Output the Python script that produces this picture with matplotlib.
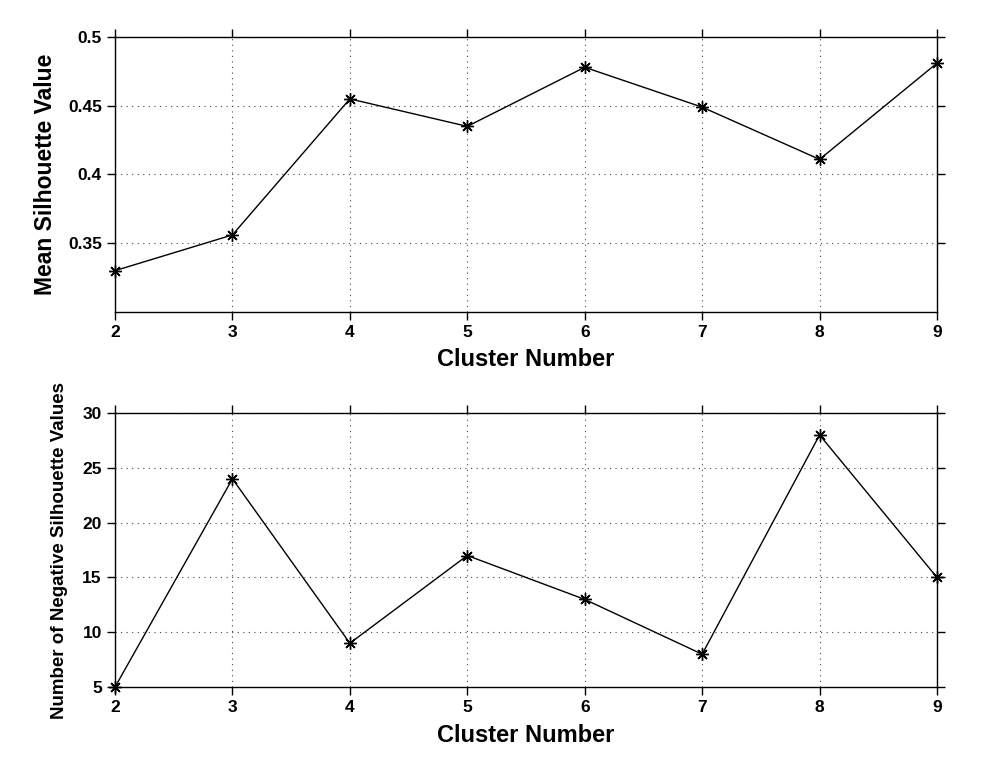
import matplotlib.pyplot as plt
import numpy as np

plt.rcParams['font.family'] = ['Liberation Sans', 'DejaVu Sans']
plt.rcParams['font.weight'] = 'bold'

# cluster counts and the two silhouette statistics
clusters = np.array([2, 3, 4, 5, 6, 7, 8, 9])
mean_silhouette = np.array([0.330, 0.356, 0.455, 0.435, 0.478, 0.449, 0.411, 0.481])
negative_counts = np.array([5, 24, 9, 17, 13, 8, 28, 15])

fig = plt.figure(figsize=(10, 7.72), dpi=100)
ax1 = fig.add_axes([0.115, 0.596, 0.822, 0.356])
ax2 = fig.add_axes([0.115, 0.110, 0.822, 0.355])


def style(ax):
    ax.set_xlim(2, 9)
    ax.set_xticks(clusters)
    ax.grid(True, linestyle=(0, (1, 4)), color='#444444', linewidth=0.8)
    ax.tick_params(direction='out', length=6, width=1, labelsize=12.5,
                   top=True, right=True, labeltop=False, labelright=False)
    for s in ax.spines.values():
        s.set_linewidth(1)
    for lab in ax.get_xticklabels() + ax.get_yticklabels():
        lab.set_fontweight('bold')
    ax.set_xlabel('Cluster Number', fontsize=17, fontweight='bold', labelpad=6)


ax1.plot(clusters, mean_silhouette, color='black', marker=(8, 2, 0),
         markersize=9, markeredgewidth=1, linewidth=1, clip_on=False)
ax1.set_ylim(0.3, 0.5)
ax1.set_yticks([0.35, 0.4, 0.45, 0.5])
ax1.set_yticklabels(['0.35', '0.4', '0.45', '0.5'])
style(ax1)
ax1.set_ylabel('Mean Silhouette Value', fontsize=16.5, fontweight='bold',
               labelpad=8)

ax2.plot(clusters, negative_counts, color='black', marker=(8, 2, 0),
         markersize=9, markeredgewidth=1, linewidth=1, clip_on=False)
ax2.set_ylim(5, 30)
ax2.set_yticks([5, 10, 15, 20, 25, 30])
style(ax2)
ax2.set_ylabel('Number of Negative Silhouette Values', fontsize=13.5,
               fontweight='bold', labelpad=10)

fig.savefig('out.png', dpi=100)
